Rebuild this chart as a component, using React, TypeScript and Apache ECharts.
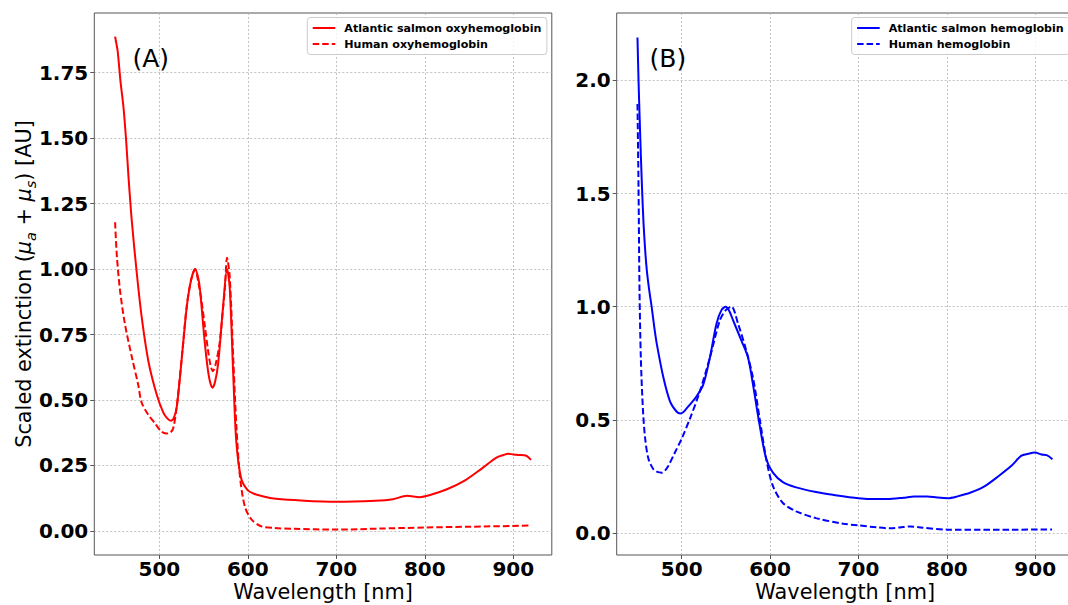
import React, { useEffect, useRef } from 'react';
import * as echarts from 'echarts';

const FONT = 'DejaVu Sans';

// (A) Atlantic salmon oxyhemoglobin
const salmonOxyWl = [450, 451.5, 453, 456, 459.5, 462.5, 465, 469, 474.5, 480, 487.5, 497, 504.5, 509, 513, 516.5, 519.5, 522.5, 525.5, 531, 536, 540.5, 544, 546, 551.5, 556, 560, 563, 566.5, 572, 576.5, 579.5, 583.5, 587, 592.5, 600, 607, 615, 627, 653, 700, 744, 764, 780, 794, 805, 825, 845, 865, 881, 889, 894, 900, 906, 914, 920];
const salmonOxyVal = [1.888, 1.86, 1.83, 1.72, 1.617, 1.49, 1.359, 1.179, 0.985, 0.818, 0.65, 0.521, 0.452, 0.43, 0.421, 0.433, 0.47, 0.56, 0.665, 0.856, 0.96, 1.0, 0.965, 0.92, 0.714, 0.59, 0.547, 0.57, 0.64, 0.856, 1.0, 0.93, 0.598, 0.34, 0.2, 0.155, 0.142, 0.134, 0.125, 0.118, 0.111, 0.115, 0.121, 0.134, 0.129, 0.136, 0.159, 0.192, 0.24, 0.28, 0.29, 0.295, 0.292, 0.29, 0.288, 0.271];

// (A) Human oxyhemoglobin
const humanOxyWl = [450, 452, 455.5, 461, 469, 476, 480, 487.5, 495, 502.5, 508, 512, 515.5, 519.5, 523, 527, 531, 536, 540.5, 544, 547.5, 551.5, 555, 558, 560.5, 563.5, 568, 572, 574, 576.5, 579.5, 583.5, 587, 591, 596.5, 604, 615, 630, 653, 700, 750, 800, 850, 900, 920];
const humanOxyVal = [1.179, 1.05, 0.921, 0.792, 0.663, 0.56, 0.49, 0.444, 0.411, 0.379, 0.372, 0.375, 0.39, 0.47, 0.58, 0.72, 0.86, 0.96, 1.0, 0.95, 0.882, 0.78, 0.69, 0.63, 0.61, 0.635, 0.714, 0.85, 0.921, 1.043, 0.972, 0.663, 0.405, 0.211, 0.095, 0.044, 0.018, 0.011, 0.008, 0.005, 0.009, 0.013, 0.016, 0.019, 0.021];

// (B) Atlantic salmon hemoglobin
const salmonHbWl = [450, 451.2, 452.5, 453.8, 455.3, 456.8, 458.7, 460.6, 463.4, 466.2, 469, 471.9, 479.4, 486.9, 494.4, 498.5, 502, 505.6, 511, 516.9, 524.4, 531.9, 539.4, 545, 550, 554, 558.2, 567.6, 575.1, 580.7, 588.2, 595.7, 603.2, 614.5, 629.5, 652, 671, 700, 720, 732, 751, 763, 778, 789, 801, 812, 827, 842.5, 858, 873, 884, 892, 899.6, 907, 913, 919.4];
const salmonHbVal = [2.19, 2.0, 1.83, 1.672, 1.51, 1.373, 1.25, 1.16, 1.07, 0.995, 0.91, 0.835, 0.686, 0.581, 0.536, 0.528, 0.535, 0.551, 0.575, 0.604, 0.656, 0.775, 0.925, 0.985, 1.0, 0.98, 0.94, 0.85, 0.775, 0.656, 0.477, 0.327, 0.267, 0.225, 0.202, 0.181, 0.169, 0.154, 0.15, 0.15, 0.156, 0.162, 0.162, 0.157, 0.154, 0.162, 0.179, 0.206, 0.25, 0.297, 0.341, 0.35, 0.356, 0.347, 0.344, 0.326];

// (B) Human hemoglobin
const humanHbWl = [450, 451.2, 452.3, 453.8, 456.1, 458.7, 462.5, 468, 472.5, 477.5, 481, 485, 492.5, 500, 509.4, 520.6, 531.9, 543.2, 549.9, 556.3, 563.8, 573.2, 580.7, 588.2, 595.7, 603.2, 614.5, 629.5, 652, 683, 700, 721, 736, 747, 759, 770, 801, 835, 873, 919];
const humanHbVal = [1.896, 1.522, 1.074, 0.775, 0.551, 0.417, 0.327, 0.282, 0.27, 0.267, 0.275, 0.297, 0.357, 0.417, 0.506, 0.626, 0.775, 0.94, 0.985, 1.0, 0.925, 0.805, 0.686, 0.506, 0.327, 0.208, 0.133, 0.096, 0.066, 0.041, 0.034, 0.025, 0.021, 0.025, 0.029, 0.025, 0.015, 0.015, 0.015, 0.016];

const xTicks = [500, 600, 700, 800, 900];
const yTicksA = [0, 0.25, 0.5, 0.75, 1.0, 1.25, 1.5, 1.75];
const yTicksB = [0, 0.5, 1.0, 1.5, 2.0];

const NAMES = {
  sOxy: 'Atlantic salmon oxyhemoglobin',
  hOxy: 'Human oxyhemoglobin',
  sHb: 'Atlantic salmon hemoglobin',
  hHb: 'Human hemoglobin',
};

function pairs(wl: number[], v: number[]) {
  return wl.map((w, i) => [w, v[i]]);
}

const SPINE = '#555';
const GRIDLINE = { color: '#b4b4b4', type: [2, 2] as number[], width: 0.8 };

function xAxisFor(gridIndex: number) {
  return {
    type: 'value',
    gridIndex,
    min: 426.5,
    max: 943.5,
    name: 'Wavelength [nm]',
    nameLocation: 'middle',
    nameGap: 26,
    nameMoveOverlap: false,
    nameTextStyle: { fontFamily: FONT, fontSize: 20.8, color: '#000', lineHeight: 21 },
    axisLine: { show: false, onZero: false },
    axisTick: { show: true, length: 4, lineStyle: { color: SPINE }, customValues: xTicks },
    axisLabel: { customValues: xTicks, fontFamily: FONT, fontSize: 20, fontWeight: 'bold', color: '#000', margin: 4, lineHeight: 20 },
    splitLine: { show: true, lineStyle: GRIDLINE },
  };
}

function yAxisFor(gridIndex: number, min: number, max: number, ticks: number[], fmt: (v: number) => string, withName: boolean) {
  return {
    type: 'value',
    gridIndex,
    min,
    max,
    name: withName ? 'Scaled extinction ({i|μ}{s|a}{n| + }{i|μ}{s|s}) [AU]' : '',
    nameLocation: 'middle',
    nameRotate: 90,
    nameGap: 56,
    nameMoveOverlap: false,
    nameTextStyle: {
      fontFamily: FONT,
      fontSize: 20.8,
      color: '#000',
      lineHeight: 28,
      rich: {
        i: { fontFamily: FONT, fontSize: 20.8, fontStyle: 'italic', color: '#000', lineHeight: 28 },
        s: { fontFamily: FONT, fontSize: 14.5, fontStyle: 'italic', color: '#000', lineHeight: 14, verticalAlign: 'bottom' },
        n: { fontFamily: FONT, fontSize: 20.8, color: '#000', lineHeight: 28 },
      },
    },
    axisLine: { show: false, onZero: false },
    axisTick: { show: true, length: 4, lineStyle: { color: SPINE }, customValues: ticks },
    axisLabel: {
      customValues: ticks,
      formatter: fmt,
      fontFamily: FONT,
      fontSize: 20,
      fontWeight: 'bold',
      color: '#000',
      margin: 6,
    },
    splitLine: { show: true, lineStyle: GRIDLINE },
  };
}

function legendFor(left: number, names: string[]) {
  return {
    left,
    top: 17.5,
    orient: 'vertical',
    data: names,
    itemWidth: 22.6,
    itemHeight: 11,
    itemGap: 5,
    padding: [5, 5.5, 5, 4.4],
    backgroundColor: 'rgba(255,255,255,0.8)',
    borderColor: '#cccccc',
    borderWidth: 1,
    borderRadius: 3,
    selectedMode: false,
    itemStyle: { opacity: 0 },
    textStyle: { fontFamily: FONT, fontSize: 11.1, fontWeight: 'bold', color: '#000', padding: [0, 0, 0, 4] },
  };
}

function lineSeries(name: string, data: number[][], color: string, dashed: boolean, idx: number) {
  return {
    type: 'line',
    name,
    data,
    xAxisIndex: idx,
    yAxisIndex: idx,
    symbol: 'none',
    smooth: 0.3,
    lineStyle: { color, width: 2, type: dashed ? [6.5, 3] : 'solid' },
    itemStyle: { color },
    z: 3,
  };
}

export default function App() {
  const ref = useRef<HTMLDivElement>(null);
  useEffect(() => {
    const chart = echarts.init(ref.current!, undefined, { renderer: 'svg', width: 1068, height: 605 });
    const option: any = {
      animation: false,
      backgroundColor: '#ffffff',
      textStyle: { fontFamily: FONT },
      grid: [
        { left: 94.3, top: 13, width: 457.5, height: 542, show: true, borderColor: SPINE, borderWidth: 1, backgroundColor: 'transparent', outerBoundsMode: 'none', containLabel: false },
        { left: 616.7, top: 13, width: 457, height: 542, show: true, borderColor: SPINE, borderWidth: 1, backgroundColor: 'transparent', outerBoundsMode: 'none', containLabel: false },
      ],
      xAxis: [xAxisFor(0), xAxisFor(1)],
      yAxis: [
        yAxisFor(0, -0.092, 1.978, yTicksA, (v: number) => v.toFixed(2), true),
        yAxisFor(1, -0.097, 2.298, yTicksB, (v: number) => v.toFixed(1), false),
      ],
      legend: [legendFor(307.3, [NAMES.sOxy, NAMES.hOxy]), legendFor(851.7, [NAMES.sHb, NAMES.hHb])],
      graphic: [
        { type: 'text', left: 132.5, top: 46, style: { text: '(A)', fontFamily: FONT, fontSize: 25, fill: '#000' }, z: 10 },
        { type: 'text', left: 649.5, top: 46, style: { text: '(B)', fontFamily: FONT, fontSize: 25, fill: '#000' }, z: 10 },
      ],
      series: [
        lineSeries(NAMES.sOxy, pairs(salmonOxyWl, salmonOxyVal), '#ff0000', false, 0),
        lineSeries(NAMES.hOxy, pairs(humanOxyWl, humanOxyVal), '#ff0000', true, 0),
        lineSeries(NAMES.sHb, pairs(salmonHbWl, salmonHbVal), '#0000ff', false, 1),
        lineSeries(NAMES.hHb, pairs(humanHbWl, humanHbVal), '#0000ff', true, 1),
      ],
    };
    chart.setOption(option);
    return () => chart.dispose();
  }, []);
  return <div ref={ref} style={{ position: 'fixed', left: 0, top: 0, width: 1068, height: 605, background: '#fff' }} />;
}
